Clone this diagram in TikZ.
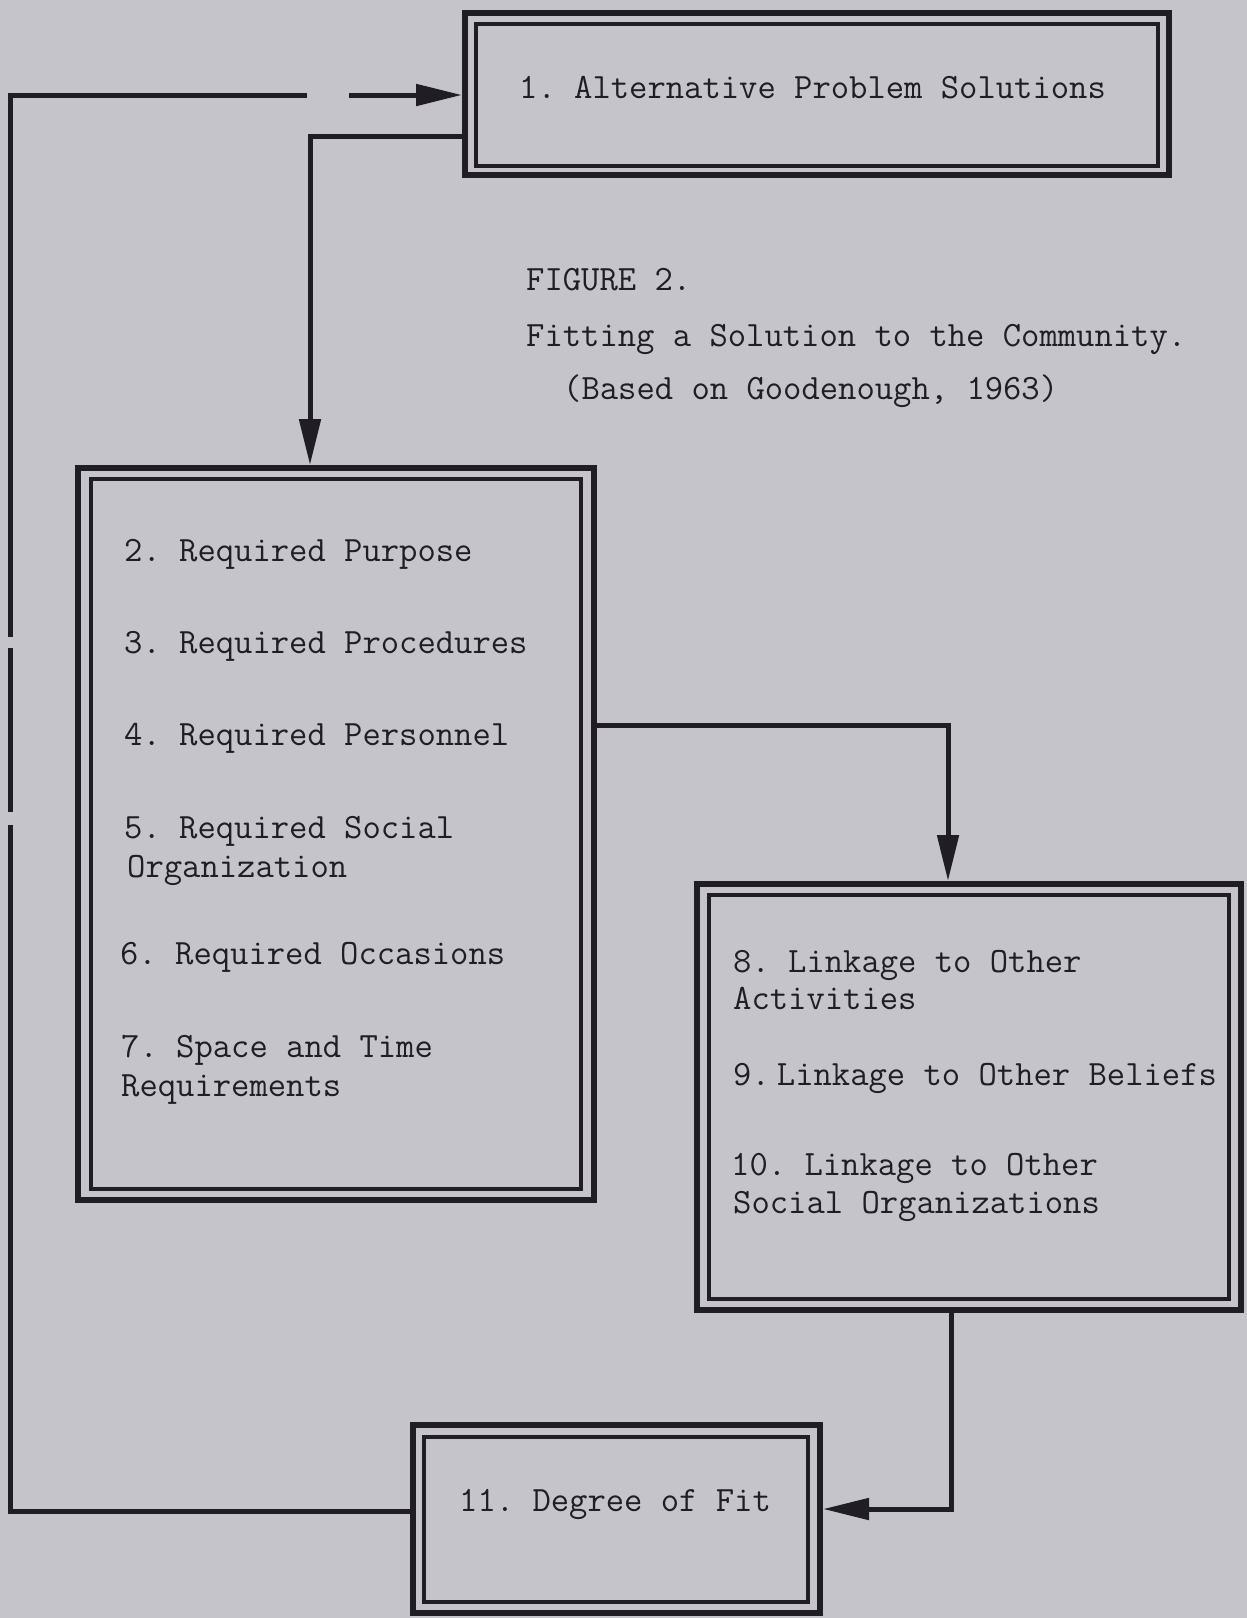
\documentclass[tikz,border=0pt]{standalone}
\usetikzlibrary{arrows.meta,calc}
\definecolor{bgc}{RGB}{197,196,203}
\definecolor{ink}{RGB}{32,30,36}
\begin{document}
\frenchspacing
\begin{tikzpicture}[x=1pt,y=-1pt,
  outerbox/.style={draw=ink,line width=6pt,rectangle,inner sep=0pt},
  innerline/.style={draw=ink,line width=3.2pt},
  conn/.style={draw=ink,line width=5pt},
  arr/.style={conn,-{Triangle[length=46pt,width=21pt]}},
  lbl/.style={anchor=base west,inner sep=0pt,text=ink,font=\fontsize{35.6}{38}\selectfont\ttfamily\frenchspacing}]
\fill[bgc] (0,0) rectangle (1247,1618);
\useasboundingbox (0,0) rectangle (1247,1618);

% boxes
\node[outerbox,minimum width=704pt,minimum height=162pt] (b1) at (817,94) {};
\draw[innerline] ($(b1.north west)+(14,14)$) rectangle ($(b1.south east)+(-14,-12)$);
\node[outerbox,minimum width=516pt,minimum height=732pt] (b2) at (336,834) {};
\draw[innerline] ($(b2.north west)+(16,14)$) rectangle ($(b2.south east)+(-16,-14)$);
\node[outerbox,minimum width=544pt,minimum height=426pt] (b3) at (969,1097) {};
\draw[innerline] ($(b3.north west)+(15,14)$) rectangle ($(b3.south east)+(-15,-14)$);
\node[outerbox,minimum width=407pt,minimum height=188pt] (b11) at (616.5,1519) {};
\draw[innerline] ($(b11.north west)+(14,15)$) rectangle ($(b11.south east)+(-15,-14)$);

% texts
\node[lbl] (t1) at (519,98) {1. Alternative Problem Solutions};
\node[lbl] (cap1) at (526,290) {FIGURE 2.};
\node[lbl] (cap2) at (526,346) {Fitting a Solution to the Community.};
\node[lbl] (cap3) at (563,399) {(Based on Goodenough, 1963)};

\node[lbl] (t2) at (124,561) {2. Required Purpose};
\node[lbl] (t3) at (124,653) {3. Required Procedures};
\node[lbl] (t4) at (124,745) {4. Required Personnel};
\node[lbl] (t5a) at (124,838) {5. Required Social};
\node[lbl] (t5b) at (127,877) {Organization};
\node[lbl] (t6) at (120,964) {6. Required Occasions};
\node[lbl] (t7a) at (121,1057) {7. Space and Time};
\node[lbl] (t7b) at (121,1096) {Requirements};

\node[lbl] (t8a) at (733,972) {8. Linkage to Other};
\node[lbl] (t8b) at (733,1009) {Activities};
\node[lbl] (t9) at (733,1085) {9.\kern0.2em Linkage to Other Beliefs};
\node[lbl] (t10a) at (731,1175) {10. Linkage to Other};
\node[lbl] (t10b) at (733,1213) {Social Organizations};

\node[lbl] (t11) at (459,1511) {11. Degree of Fit};

% connectors
\draw[arr] ($(b1.west)+(0,42)$) -| ($(b2.north)+(-26,0)$);
\draw[arr] ($(b2.east)+(0,-109)$) -| ($(b3.north)+(-21,0)$);
\draw[arr] ($(b3.south)+(-18,0)$) |- ($(b11.east)+(0,-10)$);

\coordinate (fbb) at (10,1511);
\coordinate (fbt) at (10,95);
\coordinate (g1a) at (10,825);
\coordinate (g1b) at (10,812);
\coordinate (g2a) at (10,648);
\coordinate (g2b) at (10,637);
\coordinate (gl) at (307,95);
\coordinate (gr) at (349,95);
\draw[conn] (b11.west |- fbb) -- (fbb) -- (g1a);
\draw[conn] (g1b) -- (g2a);
\draw[conn] (g2b) -- (fbt) -- (gl);
\draw[arr] (gr) -- (b1.west |- gr);
\end{tikzpicture}
\end{document}
